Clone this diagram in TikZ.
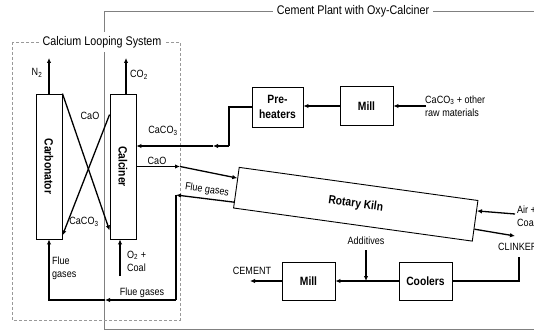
\documentclass[tikz,border=0pt]{standalone}
\usepackage{fontspec}
\setmainfont{Liberation Sans}[FakeStretch=0.86]
\usetikzlibrary{arrows.meta,positioning,calc}

\begin{document}
\begin{tikzpicture}[
    x=1pt, y=-1pt,
    every node/.style={font=\fontsize{10.5}{13}\selectfont, inner sep=1pt},
    box/.style={draw, line width=0.9pt, align=center, inner sep=0pt, font=\fontsize{12}{15}\selectfont\bfseries},
    reactor/.style={box, minimum width=26pt, minimum height=145pt},
    unit/.style={box, minimum width=53pt, minimum height=39pt},
    title/.style={fill=white, inner sep=4pt, font=\fontsize{12.5}{14}\selectfont},
    flow/.style={-{Latex[length=5pt,width=4.5pt]}, line width=1.3pt},
    pipe/.style={line width=1.3pt},
    frame/.style={draw=gray, line width=0.9pt},
    loopframe/.style={draw=gray!80, line width=0.8pt, dash pattern=on 3pt off 2pt}
]
\useasboundingbox (0,0) rectangle (534,331);
% outer frames
\draw[frame] (540,11) -- (104,11) -- (104,329) -- (540,329);
\node[title] (plant) at (353,11) {Cement Plant with Oxy-Calciner};
\draw[loopframe] (12,42) rectangle (180,320);
\node[title] (loop) at (102,42) {Calcium Looping System};

% reactors and units
\node[reactor] (carb) at (49,166.5) {\rotatebox{-90}{Carbonator}};
\node[reactor] (calc) at (123,166.5) {\rotatebox{-90}{Calciner}};
\node[unit] (mill1) at (366.5,106) {Mill};
\node[unit, minimum width=51pt, minimum height=40pt] (pre) at (277.5,107) {Pre-\\heaters};
\node[unit, minimum height=38pt] (cool) at (425.5,281) {Coolers};
\node[unit, minimum height=38pt] (mill2) at (308.5,281) {Mill};
\node[box, minimum width=241pt, minimum height=41pt, rotate=-7.9] (kiln) at (355.75,204.25) {Rotary Kiln};

% points on the kiln
\coordinate (kin) at ($(kiln.north west)!0.27!(kiln.south west)$);
\coordinate (kout) at ($(kiln.north west)!0.85!(kiln.south west)$);
\coordinate (kair) at ($(kiln.north east)!0.26!(kiln.south east)$);
\coordinate (kclk) at ($(kiln.north east)!0.70!(kiln.south east)$);

% loose ends
\coordinate (n2) at (49,58);
\coordinate (co2) at (126,58);
\coordinate (bend) at (229,146);
\coordinate (mida) at (213,146);
\coordinate (caoj) at (180,166.5);
\coordinate (fgj) at (176,195);
\coordinate (fgb) at (176,300);
\coordinate (midb) at (105,300);
\coordinate (o2) at (120,276);
\coordinate (raw) at (426,106);
\coordinate (air) at (515,214);
\coordinate (clk) at (515,236);
\coordinate (clkdown) at (519,257);
\coordinate (add) at (366,250);
\coordinate (cem) at (250,281);

% calcium looping
\draw[flow] (carb.north) -- (n2);
\draw[flow] ([xshift=3pt]calc.north) -- (co2);
\draw[flow] (carb.north east) -- ([yshift=9pt]calc.south west);
\draw[flow] ([yshift=-21pt]calc.north west) -- ([yshift=4pt]carb.south east);
\draw[flow] (o2) -- (o2 |- calc.south);

% raw meal line
\draw[flow] (raw) -- (mill1.east);
\draw[flow] (mill1.west) -- (pre.east |- mill1.west);
\draw[pipe] (pre.west) -| (bend);
\draw[flow] (bend) -- (mida);
\draw[flow] (mida) -- (calc.east |- mida);

% CaO to kiln, flue gases back
\draw[flow] (calc.east) -- (caoj);
\draw[flow] (caoj) -- (kin);
\draw[flow] (kout) -- (fgj);
\draw[pipe] (fgj) -- (fgb);
\draw[flow] (fgb) -- (midb);
\draw[flow] (midb) -| (carb.south);

% kiln outlet side
\draw[flow] (air) -- (kair);
\draw[flow] (kclk) -- (clk);
\draw[pipe] (clkdown) |- (cool.east);
\draw[flow] (cool.west) -- (mill2.east);
\draw[flow] (add) -- (add |- mill2.east);
\draw[flow] (mill2.west) -- (cem);

% labels
\node (ln2) at (37,73) {N\textsubscript{2}};
\node (lco2) at (139,75) {CO\textsubscript{2}};
\node (lcaox) at (90,116) {CaO};
\node (lcaco3x) at (84,222) {CaCO\textsubscript{3}};
\node (lcaco3) at (163,131) {CaCO\textsubscript{3}};
\node (lcao) at (157,161) {CaO};
\node[rotate=-8.4] (lflue) at (207,190) {Flue gases};
\node[anchor=west, align=left] (lflue2) at (51,268) {Flue\\gases};
\node[anchor=west, align=left] (lo2) at (126,261) {O\textsubscript{2} +\\Coal};
\node (lflue3) at (142,293) {Flue gases};
\node[anchor=west, align=left] (lraw) at (424,106) {CaCO\textsubscript{3} + other\\raw materials};
\node[anchor=west, align=left] (lair) at (516,216) {Air +\\Coal};
\node[anchor=west] (lclk) at (497,247) {CLINKER};
\node (ladd) at (366,241) {Additives};
\node (lcem) at (252,271) {CEMENT};
\end{tikzpicture}
\end{document}
